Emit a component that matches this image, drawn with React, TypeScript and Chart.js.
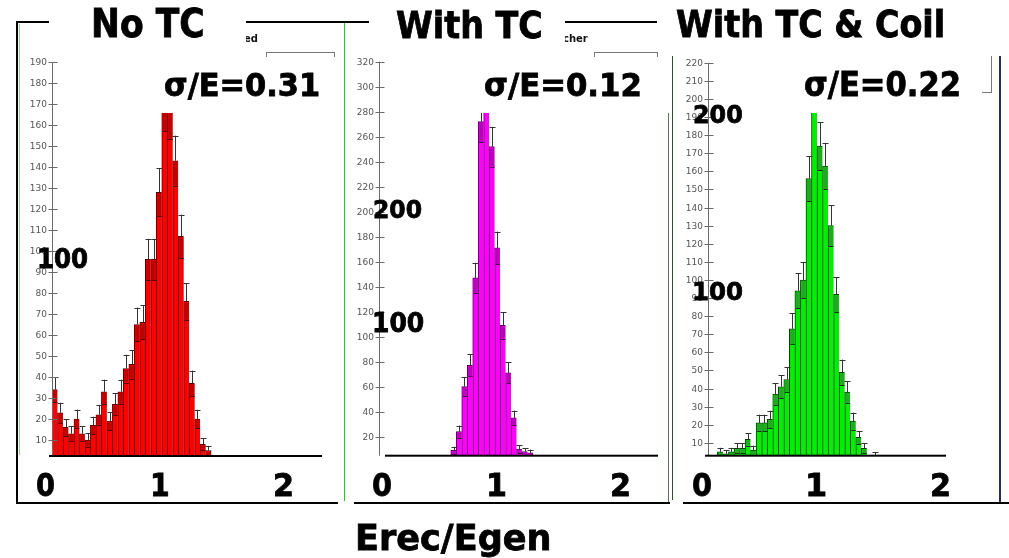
import React, { useEffect, useRef } from 'react';
import { Chart, registerables } from 'chart.js';

Chart.register(...registerables);

// ---------------- data ----------------
const binWidth = 0.05;

// "No TC" histogram (Erec/Egen bins of 0.05, starting at bin 0)
const noTcFirstBin = 0;
const noTcCounts = [34, 23, 16, 13, 20, 13, 10, 17, 22, 33, 19, 27, 33, 44, 46, 65, 66, 96, 96, 128, 170, 166, 143, 107, 76, 37, 20, 8, 5];
const noTcYTicks = [10, 20, 30, 40, 50, 60, 70, 80, 90, 100, 110, 120, 130, 140, 150, 160, 170, 180, 190];

// "With TC" histogram
const withTcFirstBin = 12;
const withTcCounts = [9, 24, 60, 77, 147, 272, 300, 252, 171, 109, 71, 35, 10, 8, 7];
const withTcYTicks = [20, 40, 60, 80, 100, 120, 140, 160, 180, 200, 220, 240, 260, 280, 300, 320];

// "With TC & Coil" histogram
const coilFirstBin = 2;
const coilCounts = [5, 4, 5, 7, 7, 12, 6, 21, 21, 23, 37, 41, 45, 73, 94, 100, 156, 210, 174, 163, 130, 92, 49, 38, 22, 13, 7, 0, 3];
const coilYTicks = [10, 20, 30, 40, 50, 60, 70, 80, 90, 100, 110, 120, 130, 140, 150, 160, 170, 180, 190, 200, 210, 220];

// texts
const panelTitles = ['No TC', 'With TC', 'With TC & Coil'];
const resolutionLabels = ['σ/E=0.31', 'σ/E=0.12', 'σ/E=0.22'];
const xTickLabels = ['0', '1', '2'];
const xAxisTitle = 'Erec/Egen';
const noTcBigYLabels = ['100'];
const withTcBigYLabels = ['200', '100'];
const coilBigYLabels = ['200', '100'];
const fragmentTexts = ['ed', 'cher'];

// ---------------- layout / style ----------------
const W = 1009;
const H = 558;

const panels = [
  {
    counts: noTcCounts, firstBin: noTcFirstBin, yTicks: noTcYTicks,
    xMax: 2.46, yMin: 2.4, yMax: 190,
    area: { left: 52, right: 322, top: 62, bottom: 456 },
    yAxisOffset: 0, xLineOffset: -3,
    fill: '#ff0000', border: '#5a0000', band: '#c20000', whisker: '#333333',
  },
  {
    counts: withTcCounts, firstBin: withTcFirstBin, yTicks: withTcYTicks,
    xMax: 2.49, yMin: 4.8, yMax: 320,
    area: { left: 385, right: 658, top: 61.7, bottom: 455.7 },
    yAxisOffset: -5.7, xLineOffset: 0,
    fill: '#ff00ff', border: '#550055', band: '#bb00bb', whisker: '#333333',
  },
  {
    counts: coilCounts, firstBin: coilFirstBin, yTicks: coilYTicks,
    xMax: 2.165, yMin: 2.9, yMax: 220,
    area: { left: 706.3, right: 946, top: 62.8, bottom: 455.7 },
    yAxisOffset: 1.4, xLineOffset: -1.3,
    fill: '#00ee00', border: '#0a3a0a', band: '#22a822', whisker: '#333333',
  },
];

const histPlugin = {
  id: 'hist',
  afterDatasetsDraw(chart: any, _args: any, opts: any) {
    const { ctx, chartArea } = chart;
    const y = chart.scales.y;
    const meta = chart.getDatasetMeta(0);
    const data = chart.data.datasets[0].data as { x: number; y: number }[];
    ctx.save();
    ctx.beginPath();
    ctx.rect(chartArea.left, chartArea.top, chartArea.right - chartArea.left, chartArea.bottom - chartArea.top);
    ctx.clip();
    meta.data.forEach((bar: any, i: number) => {
      const v = data[i].y;
      if (!v) return;
      const e = Math.sqrt(v);
      const x = bar.x;
      const w = bar.width;
      const yTop = y.getPixelForValue(v);
      const yLow = y.getPixelForValue(v - e);
      const yHigh = y.getPixelForValue(v + e);
      ctx.fillStyle = opts.band;
      ctx.fillRect(x - w / 2 + 1, yTop + 1, w - 1.5, yLow - yTop - 1);
      ctx.strokeStyle = opts.border;
      ctx.lineWidth = 1;
      ctx.beginPath();
      ctx.moveTo(x - w / 2 + 1, Math.round(yLow) + 0.5);
      ctx.lineTo(x + w / 2, Math.round(yLow) + 0.5);
      ctx.stroke();
      const cx = Math.round(x) + 0.5;
      ctx.strokeStyle = opts.whisker;
      ctx.beginPath();
      ctx.moveTo(cx, yTop);
      ctx.lineTo(cx, yHigh);
      const cy = Math.round(yHigh) + 0.5;
      ctx.moveTo(cx - 3, cy);
      ctx.lineTo(cx + 3, cy);
      ctx.stroke();
    });
    ctx.restore();
  },
  afterDraw(chart: any, _args: any, opts: any) {
    const { ctx, chartArea } = chart;
    const y = chart.scales.y;
    const ax = Math.round(chartArea.left + opts.yAxisOffset) + 0.5;
    ctx.save();
    ctx.strokeStyle = '#6a6a6a';
    ctx.lineWidth = 1;
    ctx.beginPath();
    ctx.moveTo(ax, chartArea.top);
    ctx.lineTo(ax, chartArea.bottom);
    ctx.stroke();
    ctx.font = '9px "DejaVu Sans"';
    ctx.fillStyle = '#555555';
    ctx.textAlign = 'right';
    ctx.textBaseline = 'middle';
    (opts.ticks as number[]).forEach((t) => {
      const py = Math.round(y.getPixelForValue(t)) + 0.5;
      ctx.beginPath();
      ctx.moveTo(ax - 4, py);
      ctx.lineTo(ax + 5, py);
      ctx.stroke();
      ctx.fillText(String(t), ax - 5.5, py);
    });
    ctx.fillStyle = '#000000';
    const x0 = chartArea.left + opts.xLineOffset;
    ctx.fillRect(x0, chartArea.bottom - 1, chartArea.right - x0, 2);
    ctx.restore();
  },
};

function HistChart({ cfg }: { cfg: (typeof panels)[number] }) {
  const ref = useRef<HTMLCanvasElement>(null);
  useEffect(() => {
    const n = cfg.counts.length;
    const points = cfg.counts.map((c, i) => ({ x: (cfg.firstBin + i + 0.5) * binWidth, y: c }));
    const a = cfg.area;
    const chart = new Chart(ref.current as HTMLCanvasElement, {
      type: 'bar',
      data: {
        datasets: [
          {
            data: points as any,
            backgroundColor: cfg.fill,
            borderColor: cfg.border,
            borderWidth: ((c: any) => ({ top: 1, left: 1, right: c.dataIndex === n - 1 ? 1 : 0, bottom: 0 })) as any,
            barPercentage: 1,
            categoryPercentage: 1,
            clip: 0 as any,
          },
        ],
      },
      options: {
        animation: false,
        responsive: false,
        events: [],
        layout: { padding: { left: a.left, right: W - a.right, top: a.top, bottom: H - a.bottom } },
        plugins: {
          legend: { display: false },
          tooltip: { enabled: false },
          hist: { ticks: cfg.yTicks, yAxisOffset: cfg.yAxisOffset, xLineOffset: cfg.xLineOffset, band: cfg.band, border: cfg.border, whisker: cfg.whisker },
        } as any,
        scales: {
          x: { type: 'linear', display: false, min: 0, max: cfg.xMax, offset: false, bounds: 'data' } as any,
          y: { type: 'linear', display: false, min: cfg.yMin, max: cfg.yMax, beginAtZero: false, bounds: 'data' } as any,
        },
      },
      plugins: [histPlugin as any],
    });
    return () => chart.destroy();
  }, [cfg]);
  return <canvas ref={ref} width={W} height={H} style={{ position: 'absolute', left: 0, top: 0, zIndex: 1 }} />;
}

// ---------------- big labels ----------------
const measureCtx = document.createElement('canvas').getContext('2d') as CanvasRenderingContext2D;
const CAP = 0.729;
const BASE = 0.846;

function Label({ text, l, r, ct, bl }: { text: string; l: number; r: number; ct: number; bl: number }) {
  const fs = (bl - ct) / CAP;
  const font = `bold ${fs}px "DejaVu Sans"`;
  measureCtx.font = font;
  const m = measureCtx.measureText(text);
  const stroke = 0.8;
  const inkW = m.actualBoundingBoxLeft + m.actualBoundingBoxRight + stroke;
  const s = (r - l) / inkW;
  const x = l + (m.actualBoundingBoxLeft + stroke / 2) * s;
  return (
    <div
      style={{
        position: 'absolute', left: x, top: bl - BASE * fs, font, lineHeight: `${fs}px`,
        whiteSpace: 'nowrap', transform: `scaleX(${s})`, transformOrigin: '0 0', color: '#000', zIndex: 5,
        WebkitTextStroke: `${stroke}px #000`,
      }}
    >
      {text}
    </div>
  );
}

const whiteBoxes = [
  { l: 49, t: 0, r: 246, b: 48 },
  { l: 369, t: 0, r: 565, b: 48 },
  { l: 658, t: 0, r: 1009, b: 56 },
  { l: 110, t: 57, r: 337, b: 112.7 },
  { l: 430, t: 57, r: 669, b: 113 },
  { l: 760, t: 56, r: 982, b: 113.3 },
];

const lines = [
  { l: 16, t: 21, w: 641, h: 2, c: '#000' },
  { l: 16, t: 21, w: 2, h: 483, c: '#000' },
  { l: 19, t: 24, w: 1, h: 431, c: '#8fd88f' },
  { l: 344, t: 23, w: 1, h: 478, c: '#22cc22' },
  { l: 668, t: 113, w: 1, h: 390, c: '#5f705f' },
  { l: 672, t: 56, w: 1, h: 444, c: '#2d4d2d' },
  { l: 999, t: 56, w: 2, h: 447, c: '#2a2a5a' },
  { l: 16, t: 502, w: 322, h: 2, c: '#000' },
  { l: 354, t: 502, w: 316, h: 2, c: '#000' },
  { l: 683, t: 502, w: 326, h: 2, c: '#000' },
];

const statBoxes = [
  { l: 266, t: 52, w: 69, h: 20 },
  { l: 594, t: 52, w: 64, h: 20 },
  { l: 900, t: 40, w: 92, h: 53 },
];

const titlePos = [
  { l: 93.3, r: 202.7, ct: 10, bl: 38.3 },
  { l: 396.7, r: 541.7, ct: 10, bl: 37.7 },
  { l: 676.7, r: 943.3, ct: 10.7, bl: 37.7 },
];
const sigmaPos = [
  { l: 165, r: 319.3, ct: 74, bl: 96.7 },
  { l: 485, r: 640, ct: 74, bl: 96.7 },
  { l: 805, r: 960, ct: 72.7, bl: 96.7 },
];
const digitPos = [
  [{ l: 37, r: 55 }, { l: 152, r: 168 }, { l: 275, r: 293 }],
  [{ l: 373, r: 392 }, { l: 488, r: 505 }, { l: 612, r: 630 }],
  [{ l: 693, r: 712 }, { l: 808, r: 826 }, { l: 932, r: 950 }],
];
const bigYPos = [
  [{ l: 38.3, r: 87.3, ct: 249.3, bl: 268.3 }],
  [{ l: 373.3, r: 421.7, ct: 200, bl: 218.3 }, { l: 373.3, r: 423.3, ct: 312.7, bl: 331.7 }],
  [{ l: 693.3, r: 741.7, ct: 106, bl: 124 }, { l: 693.3, r: 742.7, ct: 281.7, bl: 300 }],
];
const bigYLabels = [noTcBigYLabels, withTcBigYLabels, coilBigYLabels];
const fragmentPos = [{ l: 244, bl: 42 }, { l: 563, bl: 42 }];

export default function App() {
  return (
    <div style={{ position: 'fixed', left: 0, top: 0, width: W, height: H, background: '#fff', overflow: 'hidden' }}>
      {panels.map((p, i) => (
        <HistChart key={i} cfg={p} />
      ))}
      {lines.map((ln, i) => (
        <div key={'ln' + i} style={{ position: 'absolute', left: ln.l, top: ln.t, width: ln.w, height: ln.h, background: ln.c, zIndex: 2 }} />
      ))}
      {statBoxes.map((b, i) => (
        <div key={'sb' + i} style={{ position: 'absolute', left: b.l, top: b.t, width: b.w, height: b.h, border: '1px solid #777', boxSizing: 'border-box', zIndex: 2 }} />
      ))}
      {fragmentTexts.map((t, i) => (
        <div key={'fr' + i} style={{ position: 'absolute', left: fragmentPos[i].l, top: fragmentPos[i].bl - BASE * 10, font: 'bold 10px "DejaVu Sans"', lineHeight: '10px', whiteSpace: 'nowrap', color: '#111', zIndex: 2 }}>
          {t}
        </div>
      ))}
      {whiteBoxes.map((b, i) => (
        <div key={'wb' + i} style={{ position: 'absolute', left: b.l, top: b.t, width: b.r - b.l, height: b.b - b.t, background: '#fff', zIndex: 3 }} />
      ))}
      {panelTitles.map((t, i) => (
        <Label key={'ti' + i} text={t} {...titlePos[i]} />
      ))}
      {resolutionLabels.map((t, i) => (
        <Label key={'sg' + i} text={t} {...sigmaPos[i]} />
      ))}
      {digitPos.map((row, pi) =>
        row.map((d, di) => <Label key={'dg' + pi + di} text={xTickLabels[di]} l={d.l} r={d.r} ct={474} bl={497} />)
      )}
      {bigYLabels.map((arr, pi) =>
        arr.map((t, li) => <Label key={'by' + pi + li} text={t} {...bigYPos[pi][li]} />)
      )}
      <Label text={xAxisTitle} l={358} r={550} ct={524} bl={550} />
    </div>
  );
}
